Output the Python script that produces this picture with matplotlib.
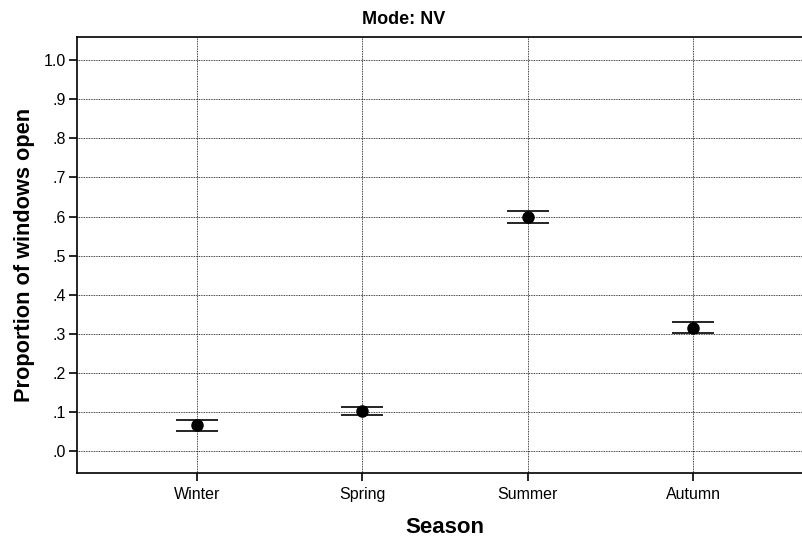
import matplotlib
matplotlib.use("Agg")
import matplotlib.pyplot as plt

seasons = ["Winter", "Spring", "Summer", "Autumn"]
means = [0.0675, 0.104, 0.598, 0.316]
lower = [0.0526, 0.0935, 0.5835, 0.302]
upper = [0.0808, 0.114, 0.613, 0.331]
yticks = [0.0, 0.1, 0.2, 0.3, 0.4, 0.5, 0.6, 0.7, 0.8, 0.9, 1.0]
ytick_labels = [".0", ".1", ".2", ".3", ".4", ".5", ".6", ".7", ".8", ".9", "1.0"]

plt.rcParams['font.family'] = ['Liberation Sans', 'DejaVu Sans']

W, H = 802, 541
fig = plt.figure(figsize=(W / 100, H / 100), dpi=100)
ax = fig.add_axes([77 / W, (H - 473) / H, (802 - 77) / W, (473 - 37) / H])

x = list(range(len(seasons)))
yerr = [[m - l for m, l in zip(means, lower)], [u - m for m, u in zip(means, upper)]]
ax.errorbar(x, means, yerr=yerr, fmt='o', color='black', ecolor='black',
            markersize=8, elinewidth=1.2, capsize=15, capthick=1.2, zorder=3)

ax.set_xlim(-0.725, 3.659)
ax.set_ylim(-0.0555, 1.059)
ax.set_xticks(x)
ax.set_xticklabels(seasons, fontsize=11.5)
ax.set_yticks(yticks)
ax.set_yticklabels(ytick_labels, fontsize=11.5)

ax.grid(True, color='black', linestyle=(0, (1, 1)), linewidth=0.6)
ax.set_axisbelow(True)

for s in ['left', 'bottom', 'top']:
    ax.spines[s].set_linewidth(1.2)
ax.spines['right'].set_visible(False)
ax.tick_params(axis='both', direction='out', length=6, width=1.2, colors='black')
ax.tick_params(axis='x', pad=4)
ax.tick_params(axis='y', pad=2)

ax.set_xlabel("Season", fontsize=16, fontweight='bold', labelpad=11, x=0.5076)
ax.set_ylabel("Proportion of windows open", fontsize=15.7, fontweight='bold', labelpad=6)
ax.set_title("Mode: NV", fontsize=13, fontweight='bold', pad=9, x=0.451)

fig.savefig("out.png", dpi=100)
